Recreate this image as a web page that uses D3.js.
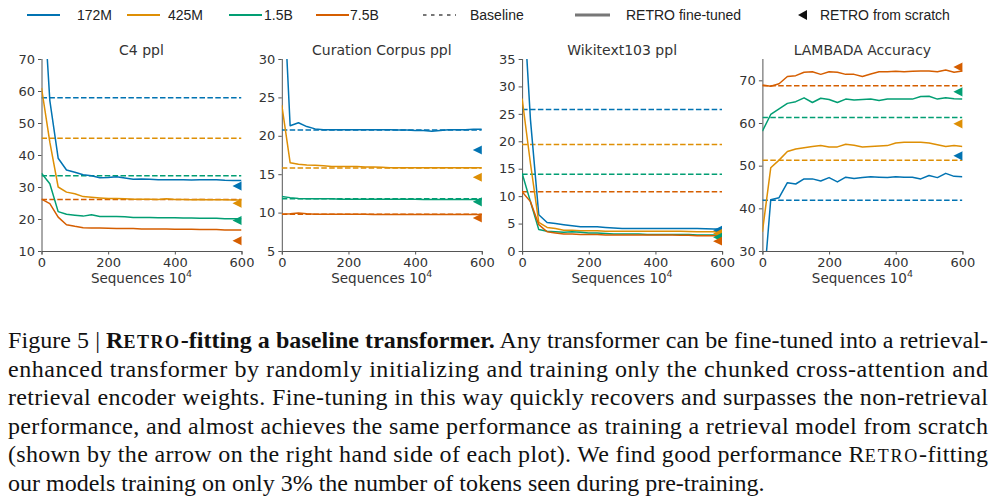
<!DOCTYPE html>
<html>
<head>
	<meta charset="UTF-8">
	<title>Retro-fitting</title>
	<script src="https://cdnjs.cloudflare.com/ajax/libs/d3/7.8.5/d3.min.js"></script>
	<style>
		body { margin: 0; background: #fff; }
		svg { display: block; }
	</style>
</head>
<body>
	<script type="text/javascript">
	// sequences (x 10^4)
	var steps = [0, 25, 50, 75, 100, 125, 150, 175, 200, 225, 250, 275, 300, 325, 350, 375, 400, 425, 450, 475, 500, 525, 550, 575, 600];

	var modelNames = ["172M", "425M", "1.5B", "7.5B"];
	var modelColors = ["#0173b2", "#de8f05", "#029e73", "#d55e00"];

	var panelTitles = ["C4 ppl", "Curation Corpus ppl", "Wikitext103 ppl", "LAMBADA Accuracy"];
	var panelDomains = [[10, 70], [5, 30], [0, 35], [30, 75]];
	var panelTicks = [[10, 20, 30, 40, 50, 60, 70], [5, 10, 15, 20, 25, 30], [0, 5, 10, 15, 20, 25, 30, 35], [30, 40, 50, 60, 70]];
	var xTicks = [0, 200, 400, 600];

	// C4 ppl
	var c4_172M = [100, 57, 39, 35.3, 34.6, 33.8, 33.5, 32.9, 33.0, 33.2, 32.8, 32.4, 32.5, 32.4, 32.3, 32.3, 32.3, 32.3, 32.2, 32.3, 32.3, 32.3, 32.1, 32.0, 32.0];
	var c4_425M = [61, 44, 30, 28.4, 27.9, 27.0, 26.8, 26.6, 26.4, 26.4, 26.3, 26.2, 26.2, 26.2, 26.1, 26.3, 26.1, 26.1, 26.0, 26.1, 26.0, 26.0, 26.0, 25.9, 25.9];
	var c4_1_5B = [34.3, 31.0, 22.3, 21.5, 21.2, 20.9, 21.3, 20.8, 20.8, 20.8, 20.7, 20.5, 20.5, 20.5, 20.4, 20.4, 20.4, 20.3, 20.3, 20.2, 20.2, 20.2, 20.1, 20.1, 20.1];
	var c4_7_5B = [26.2, 24.8, 20.6, 18.2, 17.7, 17.3, 17.2, 17.2, 17.1, 17.0, 17.0, 17.0, 16.9, 16.9, 16.9, 16.9, 16.8, 16.8, 16.8, 16.7, 16.7, 16.7, 16.6, 16.6, 16.6];
	var c4_baseline = [57.9, 45.2, 33.5, 26.1];
	var c4_scratch = [30.3, 24.9, 19.5, 13.2];

	// Curation Corpus ppl
	var cc_172M = [44, 21.3, 21.7, 21.2, 20.9, 20.8, 20.8, 20.8, 20.8, 20.8, 20.8, 20.8, 20.8, 20.8, 20.75, 20.75, 20.7, 20.7, 20.6, 20.7, 20.8, 20.8, 20.8, 20.85, 20.85];
	var cc_425M = [24.0, 16.5, 16.3, 16.2, 16.15, 16.1, 16.0, 16.0, 16.0, 16.0, 15.95, 15.95, 15.9, 15.85, 15.85, 15.85, 15.85, 15.85, 15.85, 15.85, 15.85, 15.85, 15.85, 15.85, 15.85];
	var cc_1_5B = [12.1, 11.95, 11.85, 11.8, 11.8, 11.8, 11.8, 11.75, 11.75, 11.75, 11.75, 11.75, 11.75, 11.75, 11.75, 11.75, 11.75, 11.7, 11.7, 11.7, 11.7, 11.7, 11.7, 11.7, 11.7];
	var cc_7_5B = [9.8, 9.85, 9.95, 9.85, 9.8, 9.8, 9.8, 9.8, 9.8, 9.8, 9.8, 9.75, 9.75, 9.75, 9.75, 9.75, 9.75, 9.75, 9.75, 9.75, 9.75, 9.75, 9.75, 9.75, 9.75];
	var cc_baseline = [20.75, 15.8, 11.8, 9.8];
	var cc_scratch = [18.15, 14.6, 11.4, 9.3];

	// Wikitext103 ppl
	var wt_172M = [50, 24, 6.6, 5.2, 5.0, 4.8, 4.6, 4.4, 4.4, 4.4, 4.3, 4.2, 4.1, 4.1, 4.1, 4.1, 4.1, 4.1, 4.1, 4.1, 4.1, 4.1, 4.05, 4.0, 4.0];
	var wt_425M = [27.8, 16, 5.2, 4.3, 4.1, 3.8, 3.8, 3.7, 3.7, 3.7, 3.6, 3.6, 3.6, 3.6, 3.6, 3.6, 3.6, 3.6, 3.6, 3.6, 3.55, 3.5, 3.5, 3.5, 3.5];
	var wt_1_5B = [14.2, 9.0, 3.9, 3.6, 3.5, 3.4, 3.5, 3.4, 3.3, 3.3, 3.2, 3.1, 3.1, 3.1, 3.1, 3.0, 3.0, 3.0, 3.0, 3.0, 3.0, 2.9, 2.9, 2.9, 2.9];
	var wt_7_5B = [10.8, 9.0, 4.8, 3.5, 3.3, 3.1, 3.1, 3.0, 3.0, 3.0, 2.9, 2.9, 2.9, 2.9, 2.9, 2.9, 2.9, 2.9, 2.9, 2.85, 2.85, 2.8, 2.8, 2.8, 2.8];
	var wt_baseline = [25.8, 19.4, 14.0, 10.8];
	var wt_scratch = [3.8, 3.2, 2.5, 1.8];

	// LAMBADA accuracy
	var lb_172M = [18, 42.0, 42.5, 46.0, 45.7, 46.9, 46.9, 46.4, 47.2, 46.2, 47.3, 47.0, 47.2, 47.4, 47.3, 47.2, 47.4, 47.3, 47.3, 46.9, 47.7, 47.2, 48.2, 47.5, 47.4];
	var lb_425M = [34.5, 49.5, 51.3, 53.3, 53.9, 54.2, 54.5, 54.7, 54.4, 54.4, 55.0, 54.8, 54.4, 54.5, 54.6, 54.7, 55.3, 55.5, 55.5, 55.5, 55.3, 54.9, 54.5, 54.7, 54.5];
	var lb_1_5B = [58.1, 62.0, 63.3, 64.6, 65.0, 65.9, 64.8, 65.8, 65.5, 64.8, 65.6, 65.4, 65.5, 65.6, 65.3, 65.6, 65.6, 65.6, 65.6, 66.2, 66.25, 65.6, 65.9, 65.7, 65.6];
	var lb_7_5B = [68.9, 68.6, 69.2, 70.9, 71.1, 71.9, 72.0, 71.4, 72.0, 71.9, 71.4, 71.4, 70.9, 71.5, 72.0, 72.0, 72.1, 72.0, 72.1, 72.2, 72.2, 72.0, 72.4, 71.9, 72.2];
	var lb_baseline = [41.9, 51.25, 61.3, 68.75];
	var lb_scratch = [52.3, 59.8, 67.3, 73.1];

	var panelSeries = [
		[c4_172M, c4_425M, c4_1_5B, c4_7_5B],
		[cc_172M, cc_425M, cc_1_5B, cc_7_5B],
		[wt_172M, wt_425M, wt_1_5B, wt_7_5B],
		[lb_172M, lb_425M, lb_1_5B, lb_7_5B]
	];
	var panelBaselines = [c4_baseline, cc_baseline, wt_baseline, lb_baseline];
	var panelScratch = [c4_scratch, cc_scratch, wt_scratch, lb_scratch];

	var captionLines = [
		null, // line 1 built by hand (bold + small caps)
		"enhanced transformer by randomly initializing and training only the chunked cross-attention and",
		"retrieval encoder weights. Fine-tuning in this way quickly recovers and surpasses the non-retrieval",
		"performance, and almost achieves the same performance as training a retrieval model from scratch",
		null, // line 5 has small caps too
		"our models training on only 3% the number of tokens seen during pre-training."
	];

	var width = 992, height = 502;
	var svg = d3.select("body").append("svg").attr("width", width).attr("height", height);

	var axisFont = "DejaVu Sans, sans-serif";
	var plotTop = 59, plotBottom = 251, plotWidth = 200;

	// ---------- legend ----------
	var legend = svg.append("g").attr("font-family", "Liberation Sans, Arial, sans-serif").attr("font-size", 14).attr("fill", "#222");
	var legendLineX = [27, 127, 229, 316];
	var legendTextX = [77, 168, 264, 350];
	for (var i = 0; i < 4; i++)
	{
		legend.append("line")
			.attr("x1", legendLineX[i]).attr("x2", legendLineX[i] + 33)
			.attr("y1", 15).attr("y2", 15)
			.attr("stroke", modelColors[i]).attr("stroke-width", 2);
		legend.append("text").attr("x", legendTextX[i]).attr("y", 20).text(modelNames[i]);
	}
	legend.append("line")
		.attr("x1", 423).attr("x2", 456).attr("y1", 15).attr("y2", 15)
		.attr("stroke", "#777").attr("stroke-width", 2).attr("stroke-dasharray", "3.5,4.5");
	legend.append("text").attr("x", 470).attr("y", 20).text("Baseline");
	legend.append("line")
		.attr("x1", 575).attr("x2", 610).attr("y1", 15).attr("y2", 15)
		.attr("stroke", "#777").attr("stroke-width", 3);
	legend.append("text").attr("x", 626).attr("y", 20).text("RETRO fine-tuned");
	legend.append("path")
		.attr("d", "M798,15 L807,10 L807,20 Z")
		.attr("fill", "#111");
	legend.append("text").attr("x", 820).attr("y", 20).text("RETRO from scratch");

	// ---------- panels ----------
	for (var p = 0; p < 4; p++)
	{
		drawPanel(p);
	}

	function drawPanel(p)
	{
		var left = 41.5 + p * 240.3;
		var x = d3.scaleLinear().domain([0, 600]).range([left, left + plotWidth]);
		var y = d3.scaleLinear().domain(panelDomains[p]).range([plotBottom, plotTop]);
		var g = svg.append("g");

		var clipId = "clip" + p;
		svg.append("clipPath").attr("id", clipId)
			.append("rect")
			.attr("x", left).attr("y", plotTop)
			.attr("width", plotWidth).attr("height", plotBottom - plotTop);

		// axes
		var yAxis = g.append("g")
			.attr("transform", "translate(" + left + ",0)")
			.call(d3.axisLeft(y).tickValues(panelTicks[p]).tickSize(3.5).tickPadding(3).tickFormat(d3.format("d")));
		var xAxis = g.append("g")
			.attr("transform", "translate(0," + plotBottom + ")")
			.call(d3.axisBottom(x).tickValues(xTicks).tickSize(3.5).tickPadding(3).tickFormat(d3.format("d")));
		[xAxis, yAxis].forEach(function(a)
		{
			a.selectAll("path").attr("stroke", "#555").attr("stroke-width", 1);
			a.selectAll("line").attr("stroke", "#555");
			a.selectAll("text").attr("font-family", axisFont).attr("font-size", 13).attr("fill", "#333");
		});
		yAxis.select("path").attr("d", "M0.5," + plotBottom + "V" + plotTop);

		// title and x label
		g.append("text")
			.attr("x", left + plotWidth / 2).attr("y", 55)
			.attr("text-anchor", "middle")
			.attr("font-family", axisFont).attr("font-size", 14).attr("fill", "#333")
			.text(panelTitles[p]);
		var xl = g.append("text")
			.attr("x", left + plotWidth / 2).attr("y", 283)
			.attr("text-anchor", "middle")
			.attr("font-family", axisFont).attr("font-size", 13.5).attr("fill", "#333");
		xl.append("tspan").text("Sequences 10");
		xl.append("tspan").attr("font-size", 9.5).attr("dy", -6).text("4");

		var plot = g.append("g").attr("clip-path", "url(#" + clipId + ")");

		// baselines
		panelBaselines[p].forEach(function(v, k)
		{
			plot.append("line")
				.attr("x1", x(0)).attr("x2", x(600))
				.attr("y1", y(v)).attr("y2", y(v))
				.attr("stroke", modelColors[k]).attr("stroke-width", 1.5)
				.attr("stroke-dasharray", "5.5,2.4");
		});

		// fine-tuned curves
		var line = d3.line()
			.x(function(d, k) { return x(steps[k]); })
			.y(function(d) { return y(d); });
		panelSeries[p].forEach(function(series, k)
		{
			plot.append("path")
				.datum(series)
				.attr("d", line)
				.attr("fill", "none")
				.attr("stroke", modelColors[k])
				.attr("stroke-width", 1.5)
				.attr("stroke-linejoin", "round");
		});

		// retro from scratch markers (half clipped at the right edge)
		panelScratch[p].forEach(function(v, k)
		{
			var cx = x(600), cy = y(v), s = 9;
			plot.append("path")
				.attr("d", "M" + (cx - s) + "," + cy + " L" + (cx + s) + "," + (cy - s) + " L" + (cx + s) + "," + (cy + s) + " Z")
				.attr("fill", modelColors[k]);
		});
	}

	// ---------- caption ----------
	var cap = svg.append("g").attr("font-family", "Liberation Serif, Times New Roman, serif").attr("font-size", 24).attr("fill", "#111");
	var capX = 8, capW = 980, capY = 348, capStep = 28.6;

	var l1 = cap.append("text").attr("x", capX).attr("y", capY)
		.attr("textLength", capW).attr("lengthAdjust", "spacing");
	l1.append("tspan").text("Figure 5 | ");
	l1.append("tspan").attr("font-weight", "bold").text("R");
	l1.append("tspan").attr("font-weight", "bold").attr("font-size", 18).attr("letter-spacing", 1.5).text("ETRO");
	l1.append("tspan").attr("font-weight", "bold").text("-fitting a baseline transformer.");
	l1.append("tspan").text(" Any transformer can be fine-tuned into a retrieval-");

	for (var n = 1; n < 6; n++)
	{
		if (n == 4)
		{
			var l5 = cap.append("text").attr("x", capX).attr("y", capY + n * capStep)
				.attr("textLength", capW).attr("lengthAdjust", "spacing");
			l5.append("tspan").text("(shown by the arrow on the right hand side of each plot). We find good performance R");
			l5.append("tspan").attr("font-size", 18).attr("letter-spacing", 1.5).text("ETRO");
			l5.append("tspan").text("-fitting");
			continue;
		}
		var t = cap.append("text").attr("x", capX).attr("y", capY + n * capStep).text(captionLines[n]);
		if (n < 5)
		{
			t.attr("textLength", capW).attr("lengthAdjust", "spacing");
		}
	}
	</script>
</body>
</html>
